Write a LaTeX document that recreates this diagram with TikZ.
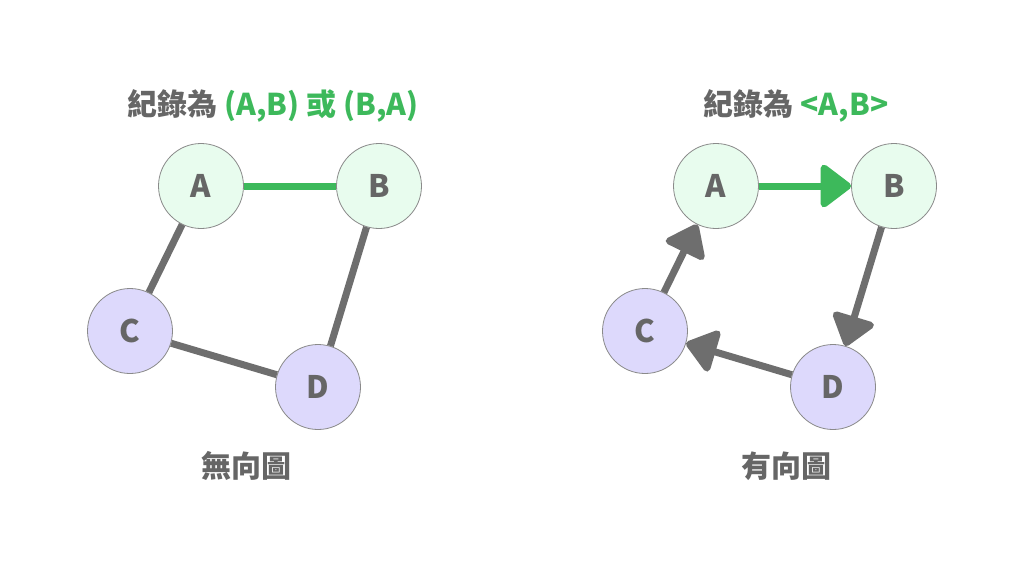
\documentclass[tikz,border=0pt]{standalone}
\usepackage{fontspec}
\setmainfont{Noto Sans CJK TC}
\usetikzlibrary{arrows.meta}
\definecolor{txtgray}{HTML}{666666}
\definecolor{edgegray}{HTML}{6E6E6E}
\definecolor{edgegreen}{HTML}{3DB95B}
\definecolor{gfill}{HTML}{E8FCEE}
\definecolor{pfill}{HTML}{DDD9FC}
\definecolor{circ}{HTML}{8A8A8A}
\begin{document}
\begin{tikzpicture}[x=1pt,y=-1pt,
  vtx/.style={circle, minimum size=85pt, inner sep=0pt, draw=circ, line width=0.8pt, font=\bfseries\fontsize{31}{31}\selectfont, text=txtgray},
  gv/.style={vtx, fill=gfill},
  pv/.style={vtx, fill=pfill},
  ed/.style={line width=7pt, draw=edgegray},
  ge/.style={line width=7pt, draw=edgegreen},
  tip/.style={-{Triangle[length=33pt,width=48pt,round]}},
  lbl/.style={font=\bfseries\fontsize{30}{30}\selectfont, text=txtgray}]
\useasboundingbox[fill=white] (0,0) rectangle (1024,574);
% left graph
\node[gv] (A1) at (201,186) {A};
\node[gv] (B1) at (379,186) {B};
\node[pv] (C1) at (130,331) {C};
\node[pv] (D1) at (318,387) {D};
\draw[ge] (A1) -- (B1);
\draw[ed] (A1) -- (C1);
\draw[ed] (C1) -- (D1);
\draw[ed] (B1) -- (D1);
\node[lbl] (t1) at (273,106) {紀錄為 \textcolor{edgegreen}{(A,B) 或 (B,A)}};
\node[lbl] (b1) at (246,466) {無向圖};
% right graph
\node[gv] (A2) at (716,186) {A};
\node[gv] (B2) at (894,186) {B};
\node[pv] (C2) at (645,331) {C};
\node[pv] (D2) at (833,387) {D};
\draw[ge,tip] (A2) -- (B2);
\draw[ed,tip] (B2) -- (D2);
\draw[ed,tip] (D2) -- (C2);
\draw[ed,tip] (C2) -- (A2);
\node[lbl] (t2) at (796,106) {紀錄為 \textcolor{edgegreen}{<A,B>}};
\node[lbl] (b2) at (786,466) {有向圖};
\end{tikzpicture}
\end{document}
